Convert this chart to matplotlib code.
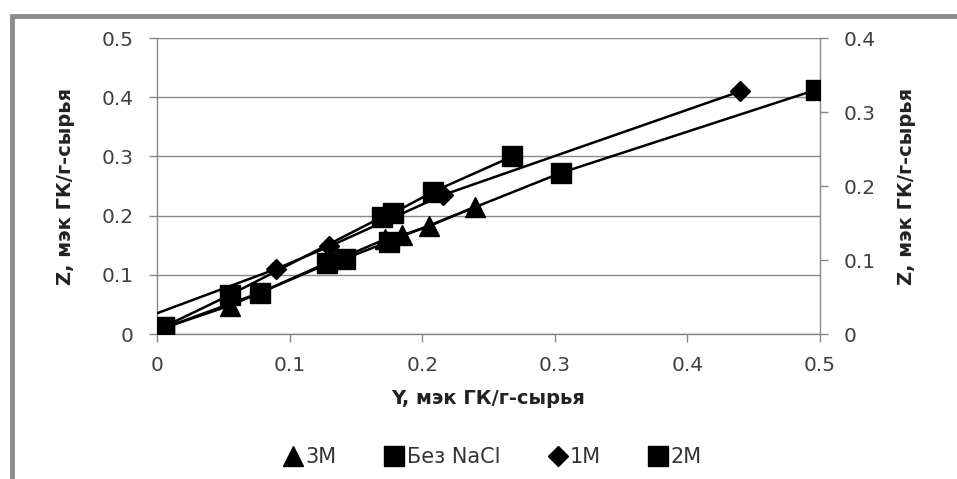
import matplotlib
matplotlib.use("Agg")
import matplotlib.pyplot as plt
from matplotlib.patches import Rectangle
from matplotlib.lines import Line2D
from matplotlib.ticker import FixedLocator, FuncFormatter

# ---- data ----
x_3m = [0.005, 0.055, 0.172, 0.185, 0.205, 0.240]
y_3m = [0.010, 0.048, 0.160, 0.167, 0.182, 0.215]

x_bez = [0.005, 0.055, 0.170, 0.178, 0.208, 0.268]
y_bez = [0.012, 0.066, 0.198, 0.204, 0.240, 0.300]

x_1m = [0.000, 0.090, 0.130, 0.216, 0.440]
y_1m = [0.035, 0.110, 0.148, 0.235, 0.410]

# 2M on the secondary (right) axis
x_2m = [0.005, 0.078, 0.128, 0.142, 0.175, 0.305, 0.497]
y_2m = [0.008, 0.056, 0.096, 0.102, 0.125, 0.218, 0.330]

left_ticks = [0, 0.1, 0.2, 0.3, 0.4, 0.5]
right_ticks = [0, 0.1, 0.2, 0.3, 0.4]
x_ticks = [0, 0.1, 0.2, 0.3, 0.4, 0.5]
labels = ["3M", "Без NaCl", "1M", "2M"]
y_label = "Z, мэк ГК/г-сырья"
x_label = "Y, мэк ГК/г-сырья"

plt.rcParams['font.family'] = ['DejaVu Sans']

fig = plt.figure(figsize=(9.57, 4.79), dpi=100)
fig.patch.set_facecolor('white')

# grey frame (left and top visible)
fig.patches.append(Rectangle((12/957, -0.2), 1.2, 1.2 - 16/479,
                             transform=fig.transFigure, fill=False,
                             edgecolor='#8c8c8c', lw=3.5, zorder=0))

ax = fig.add_axes([157/957, 1-334/479, (820-157)/957, (334-38)/479])
ax2 = ax.twinx()

fmt = FuncFormatter(lambda v, p: '0' if abs(v) < 1e-9 else f'{v:.1f}')
lc = '#888888'
tc = '#404040'

ax.set_xlim(0, 0.5)
ax.set_ylim(0, 0.5)
ax2.set_ylim(0, 0.4)
ax.xaxis.set_major_locator(FixedLocator(x_ticks))
ax.yaxis.set_major_locator(FixedLocator(left_ticks))
ax2.yaxis.set_major_locator(FixedLocator(right_ticks))
ax.xaxis.set_major_formatter(fmt)
ax.yaxis.set_major_formatter(fmt)
ax2.yaxis.set_major_formatter(fmt)

ax.yaxis.grid(True, color=lc, lw=1.0)
ax.set_axisbelow(True)
for a in (ax, ax2):
    for s in a.spines.values():
        s.set_visible(False)
ax.spines['left'].set_visible(True)
ax.spines['bottom'].set_visible(True)
ax2.spines['right'].set_visible(True)
for s in (ax.spines['left'], ax.spines['bottom'], ax2.spines['right']):
    s.set_color(lc)
    s.set_linewidth(1.0)

ax.tick_params(axis='both', colors=lc, labelcolor=tc, labelsize=14.5, length=6, width=1)
ax.tick_params(axis='y', pad=11)
ax.tick_params(axis='x', pad=10)
ax2.tick_params(axis='y', colors=lc, labelcolor=tc, labelsize=14.5, length=6, width=1, pad=11)

ax.set_ylabel(y_label, fontsize=14, fontweight='bold', color='#222222', labelpad=19)
ax2.set_ylabel(y_label, fontsize=14, fontweight='bold', color='#222222', labelpad=15)
ax.set_xlabel(x_label, fontsize=14, fontweight='bold', color='#222222', labelpad=10)

lw = 1.8
ax.plot(x_3m, y_3m, color='black', lw=lw, marker='^', ms=14, zorder=3)
ax.plot(x_bez, y_bez, color='black', lw=lw, marker='s', ms=15, zorder=3)
ax.plot(x_1m, y_1m, color='black', lw=lw, marker='D', ms=10,
        markevery=list(range(1, len(x_1m))), zorder=3)
ax2.plot(x_2m, y_2m, color='black', lw=lw, marker='s', ms=15, zorder=3)

handles = [Line2D([], [], ls='none', marker='^', color='black', ms=14),
           Line2D([], [], ls='none', marker='s', color='black', ms=14),
           Line2D([], [], ls='none', marker='D', color='black', ms=10),
           Line2D([], [], ls='none', marker='s', color='black', ms=14)]
leg = fig.legend(handles, labels, loc='center', bbox_to_anchor=(493/957, 1-457/479),
                 ncol=4, frameon=False, fontsize=15, handlelength=0.9, handletextpad=0.15,
                 columnspacing=2.3)
for t in leg.get_texts():
    t.set_color('#333333')

fig.savefig('out.png', dpi=100, facecolor='white')
